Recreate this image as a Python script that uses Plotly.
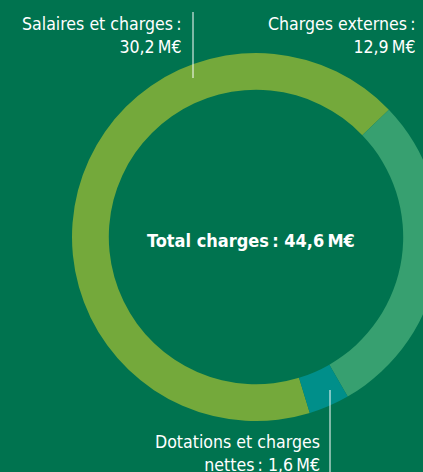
import plotly.graph_objects as go

# ---- data ----
categories = ["Salaires et charges", "Charges externes", "Dotations et charges nettes"]
values = [30.2, 12.9, 1.6]
value_labels = ["30,2\u202fM€", "12,9\u202fM€", "1,6\u202fM€"]
total_label = "Total charges\u202f: 44,6\u202fM€"

# ---- style ----
BG = "#00734F"
COLORS = ["#74A93B", "#37A070", "#008F8A"]
FONT = "Liberation Sans Narrow, DejaVu Sans Condensed, Roboto, sans-serif"

W, H = 440, 472  # figure slightly wider than the window so the ring is cut on the right


def px(x):
    return x / W


def py(y):
    return 1 - y / H


fig = go.Figure(
    go.Pie(
        labels=categories,
        values=values,
        sort=False,
        direction="clockwise",
        rotation=163,
        hole=0.8,
        marker=dict(colors=COLORS, line=dict(width=0)),
        textinfo="none",
        hoverinfo="label+value",
        showlegend=False,
        domain=dict(x=[px(72), px(440)], y=[py(421), py(53)]),
    )
)

annotations = [
    dict(x=px(184), y=py(35), text=f"{categories[0]}\u202f:<br>{value_labels[0]}",
         xanchor="right", yanchor="middle", align="right"),
    dict(x=px(418), y=py(35), text=f"{categories[1]}\u202f:<br>{value_labels[1]}",
         xanchor="right", yanchor="middle", align="right"),
    dict(x=px(322), y=py(453), text=f"Dotations et charges<br>nettes\u202f: {value_labels[2]}",
         xanchor="right", yanchor="middle", align="right"),
]
for a in annotations:
    a.update(xref="paper", yref="paper", showarrow=False,
             font=dict(family=FONT, size=17.6, color="white"))

annotations.append(dict(
    x=px(251), y=py(240), xref="paper", yref="paper", showarrow=False,
    text=f"<b>{total_label}</b>", xanchor="center", yanchor="middle",
    font=dict(family=FONT, size=18, color="white"),
))

shapes = [
    dict(type="line", xref="paper", yref="paper", x0=px(193), x1=px(193), y0=py(12), y1=py(78),
         line=dict(color="white", width=1)),
    dict(type="line", xref="paper", yref="paper", x0=px(330), x1=px(330), y0=py(390), y1=py(472),
         line=dict(color="white", width=1)),
]

fig.update_layout(
    width=W, height=H,
    margin=dict(l=0, r=0, t=0, b=0),
    paper_bgcolor=BG, plot_bgcolor=BG,
    annotations=annotations,
    shapes=shapes,
)

fig.write_html(
    "out.html",
    config={"displayModeBar": False},
    post_script="document.body.style.margin='0';document.body.style.overflow='hidden';"
                "document.documentElement.style.overflow='hidden';",
)
